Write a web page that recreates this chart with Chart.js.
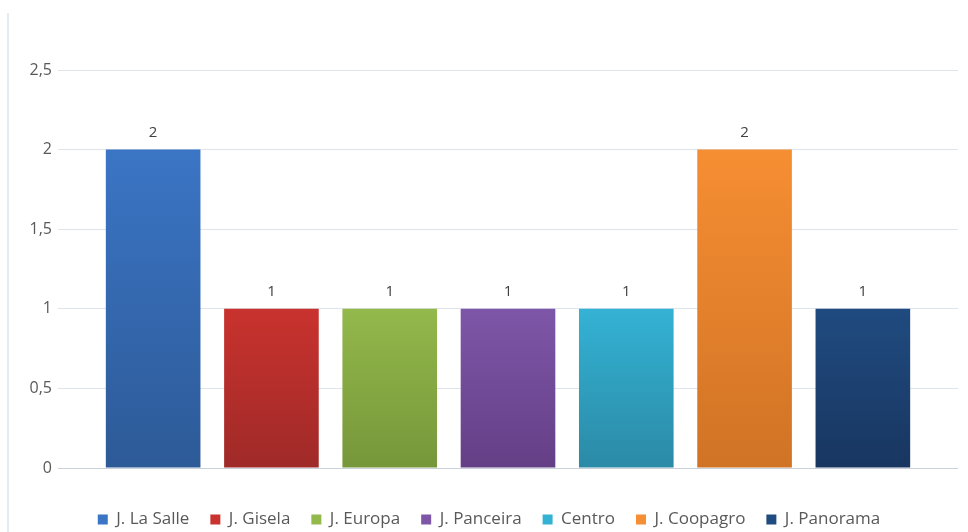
<!DOCTYPE html>
<html>
<head>
<meta charset="utf-8">
<script src="https://cdn.jsdelivr.net/npm/chart.js@4.4.0/dist/chart.umd.min.js"></script>
<style>
    html, body { margin: 0; padding: 0; background: #fff; }
    #wrap { position: relative; width: 968px; height: 532px; }
    #edge { position: absolute; left: 7px; top: 13px; width: 2px; height: 519px; background: #e6ebf1; }
    canvas { position: absolute; left: 0; top: 0; }
</style>
</head>
<body>
<div id="wrap">
    <div id="edge"></div>
    <canvas id="chart" width="968" height="532"></canvas>
</div>
<script>
// Chart data (one series per neighbourhood, as in the original)
const seriesNames = [
    "J. La Salle",
    "J. Gisela",
    "J. Europa",
    "J. Panceira",
    "Centro",
    "J. Coopagro",
    "J. Panorama",
];
const seriesValues = [2, 1, 1, 1, 1, 2, 1];
const topColors = ["#3b75c5", "#c9322e", "#93b84b", "#7e56a8", "#34b2d4", "#f68e33", "#204b80"];
const bottomColors = ["#2d5a97", "#9f2a28", "#76973a", "#643f86", "#2b8aa6", "#d07325", "#183660"];
const yTicks = { min: 0, max: 2.5, step: 0.5 };

const FONT = "'Open Sans', 'Liberation Sans', Arial, sans-serif";

const barFill = (i) => (ctx) => {
    const chart = ctx.chart;
    const y = chart.scales && chart.scales.y;
    if (!y || !chart.chartArea) return topColors[i];
    const top = y.getPixelForValue(seriesValues[i]);
    const bottom = y.getPixelForValue(0);
    const g = chart.ctx.createLinearGradient(0, top, 0, bottom);
    g.addColorStop(0, topColors[i]);
    g.addColorStop(1, bottomColors[i]);
    return g;
};

// value labels above each bar
const valueLabels = {
    id: "valueLabels",
    afterDatasetsDraw(chart) {
        const c = chart.ctx;
        c.save();
        c.font = "15px " + FONT;
        c.fillStyle = "#404040";
        c.textAlign = "center";
        c.textBaseline = "middle";
        chart.data.datasets.forEach((ds, i) => {
            const bar = chart.getDatasetMeta(i).data[0];
            if (!bar) return;
            c.fillText(String(ds.data[0]).replace(".", ","), bar.x, bar.y - 17);
        });
        c.restore();
    },
};

// nudge the legend a little right, like the original
const legendShift = {
    id: "legendShift",
    afterLayout(chart) {
        if (chart.legend) {
            chart.legend.left += 10;
            chart.legend.right += 10;
        }
    },
};

new Chart(document.getElementById("chart"), {
    type: "bar",
    data: {
        labels: [""],
        datasets: seriesNames.map((name, i) => ({
            label: name,
            data: [seriesValues[i]],
            backgroundColor: barFill(i),
            borderWidth: 0,
            categoryPercentage: 0.92,
            barPercentage: 0.8,
        })),
    },
    options: {
        responsive: false,
        animation: false,
        layout: { padding: { top: 70, right: 10, bottom: 0, left: 0 } },
        scales: {
            x: {
                grid: { display: false },
                border: { display: false },
                ticks: { display: false },
                afterFit: (s) => { s.height = 22; },
            },
            y: {
                min: yTicks.min,
                max: yTicks.max,
                border: { display: false },
                grid: {
                    drawTicks: false,
                    color: (ctx) => (ctx.tick && ctx.tick.value === 0 ? "#c9d1da" : "#dde4ec"),
                },
                ticks: {
                    stepSize: yTicks.step,
                    padding: 6,
                    color: "#595959",
                    font: { family: FONT, size: 16 },
                    callback: (v) => String(v).replace(".", ","),
                },
                afterFit: (s) => { s.width = 58; },
            },
        },
        plugins: {
            legend: {
                position: "bottom",
                maxHeight: 42,
                labels: {
                    boxWidth: 10,
                    boxHeight: 10,
                    padding: 21,
                    color: "#595959",
                    font: { family: FONT, size: 17 },
                    generateLabels: (chart) =>
                        chart.data.datasets.map((ds, i) => ({
                            text: ds.label,
                            fillStyle: topColors[i],
                            strokeStyle: topColors[i],
                            lineWidth: 0,
                            datasetIndex: i,
                            fontColor: "#595959",
                        })),
                },
            },
            tooltip: { enabled: false },
        },
    },
    plugins: [valueLabels, legendShift],
});
</script>
</body>
</html>
